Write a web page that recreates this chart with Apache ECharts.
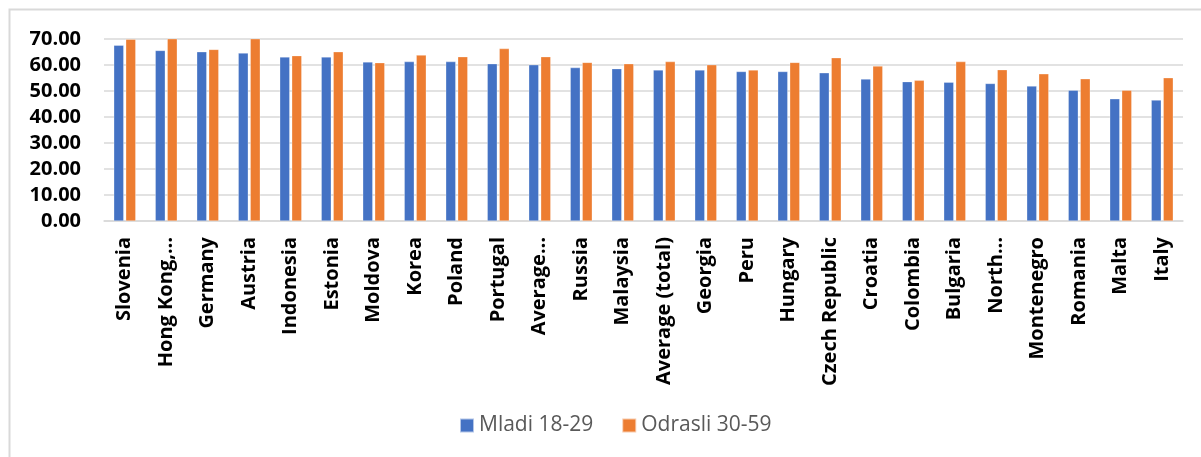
<!DOCTYPE html>
<html>
<head>
<meta charset="utf-8">
<script src="https://cdn.jsdelivr.net/npm/echarts@6/dist/echarts.min.js"></script>
<style>
  html, body { margin: 0; padding: 0; background: #fff; }
  #chart { width: 1201px; height: 457px; }
</style>
</head>
<body>
<div id="chart"></div>
<script>
// data
var categories = ['Slovenia', 'Hong Kong,…', 'Germany', 'Austria', 'Indonesia', 'Estonia', 'Moldova',
  'Korea', 'Poland', 'Portugal', 'Average…', 'Russia', 'Malaysia', 'Average (total)', 'Georgia', 'Peru',
  'Hungary', 'Czech Republic', 'Croatia', 'Colombia', 'Bulgaria', 'North…', 'Montenegro', 'Romania',
  'Malta', 'Italy']
var mladi = [67.6, 65.6, 65.1, 64.6, 63.1, 63.1, 61.2, 61.3, 61.3, 60.5, 60.1, 59.0, 58.6, 58.1, 58.1,
  57.5, 57.5, 57.0, 54.6, 53.6, 53.4, 52.9, 51.9, 50.3, 47.0, 46.5]
var odrasli = [69.9, 70.4, 66.0, 70.4, 63.6, 65.1, 60.9, 63.8, 63.2, 66.3, 63.2, 61.0, 60.5, 61.3, 60.1,
  58.1, 61.0, 62.8, 59.6, 54.1, 61.3, 58.2, 56.6, 54.7, 50.3, 55.1]
var seriesNames = ['Mladi 18-29', 'Odrasli 30-59']
var yTicks = { min: 0, max: 70, step: 10 }

var myChart = echarts.init(document.getElementById('chart'))

var option = {
  animation: false,
  color: ['#4472C4', '#ED7D31'],
  textStyle: { fontFamily: 'Open Sans' },
  graphic: [{
    type: 'rect',
    shape: { x: 9.5, y: 9.5, width: 1300, height: 600 },
    style: { fill: 'none', stroke: '#d9d9d9', lineWidth: 2 },
    silent: true
  }],
  grid: {
    left: 104,
    right: 18,
    top: 39,
    bottom: 236
  },
  legend: {
    data: seriesNames,
    bottom: 16,
    left: 454,
    itemWidth: 14,
    itemHeight: 14,
    itemGap: 28,
    icon: 'rect',
    textStyle: { fontSize: 21, color: '#595959', fontFamily: 'Open Sans' }
  },
  xAxis: {
    type: 'category',
    data: categories,
    axisTick: { show: false },
    axisLine: { lineStyle: { color: '#d9d9d9', width: 1.5 } },
    axisLabel: {
      interval: 0,
      rotate: 90,
      margin: 16,
      fontSize: 20,
      fontWeight: 'bold',
      color: '#000',
      fontFamily: 'Open Sans',
      verticalAlign: 'middle',
      padding: [0, 0, 16, 0]
    }
  },
  yAxis: {
    type: 'value',
    min: yTicks.min,
    max: yTicks.max,
    interval: yTicks.step,
    axisLine: { show: false },
    axisTick: { show: false },
    splitLine: { lineStyle: { color: '#d9d9d9', width: 1.5 } },
    axisLabel: {
      margin: 23,
      fontSize: 20,
      fontWeight: 'bold',
      color: '#000',
      fontFamily: 'Open Sans',
      formatter: function (v) { return v.toFixed(2) }
    }
  },
  series: [{
    name: seriesNames[0],
    type: 'bar',
    data: mladi,
    barWidth: 10,
    barGap: '20%',
    itemStyle: { borderColor: 'rgba(255,255,255,0.6)', borderWidth: 0.5 }
  }, {
    name: seriesNames[1],
    type: 'bar',
    data: odrasli,
    barWidth: 10,
    itemStyle: { borderColor: 'rgba(255,255,255,0.6)', borderWidth: 0.5 }
  }]
}
myChart.setOption(option)
</script>
</body>
</html>
